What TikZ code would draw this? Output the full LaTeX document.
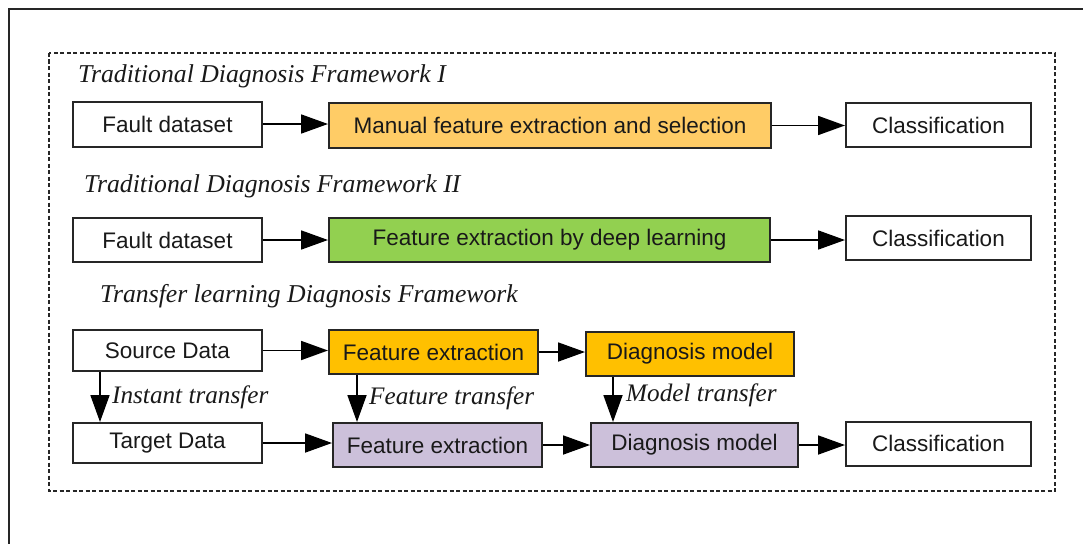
\documentclass[tikz,border=0pt]{standalone}
\usepackage{fontspec}
\setmainfont{Liberation Sans}
\newfontfamily\tmsfont{Liberation Serif}
\usetikzlibrary{arrows.meta}
\definecolor{manualc}{HTML}{FFCC66}
\definecolor{greenc}{HTML}{92D050}
\definecolor{orangec}{HTML}{FFC000}
\definecolor{purplec}{HTML}{CCC0DA}
\definecolor{edgec}{HTML}{262626}
\tikzset{
  box/.style={draw=edgec, line width=2pt, inner sep=0pt, font=\fontsize{22.5}{26}\selectfont, text=black!90},
  arr/.style={line width=1.8pt, draw=black, -{Triangle[length=27pt,width=19pt]}},
  heading/.style={anchor=west, inner sep=0pt, font=\tmsfont\itshape\fontsize{25.7}{29}\selectfont, text=black!90},
  lbl/.style={anchor=west, inner sep=0pt, font=\tmsfont\itshape\fontsize{25.2}{29}\selectfont, text=black!90},
}
\begin{document}
\begin{tikzpicture}[x=1pt,y=-1pt]
\useasboundingbox (0,0) rectangle (1083,543);
\fill[white] (0,0) rectangle (1083,543);
% outer frame (partly visible)
\draw[line width=2.4pt, black!85] (1090,9) -- (9,9) -- (9,550);
% dashed frame
\draw[line width=1.7pt, black!85, dash pattern=on 4pt off 2.5pt] (49,53) rectangle (1055,491);

% headings
\node[heading] (h1) at (78,76) {Traditional Diagnosis Framework I};
\node[heading] (h2) at (84,186) {Traditional Diagnosis Framework II};
\node[heading] (h3) at (100,296) {Transfer learning Diagnosis Framework};

% row 1
\node[box, minimum width=189pt, minimum height=45pt] (f1) at (167.5,124) {Fault dataset};
\node[box, fill=manualc, minimum width=442pt, minimum height=45pt] (m1) at (550,125.5) {Manual feature extraction and selection};
\node[box, minimum width=185pt, minimum height=44pt] (c1) at (938.5,125) {Classification};

% row 2
\node[box, minimum width=189pt, minimum height=44pt] (f2) at (167.5,240) {Fault dataset};
\node[box, fill=greenc, minimum width=441pt, minimum height=44pt] (g2) at (549.5,240) {Feature extraction by deep learning};
\node[box, minimum width=185pt, minimum height=44pt] (c2) at (938.5,238) {Classification};

% row 3
\node[box, minimum width=189pt, minimum height=41pt] (s3) at (167.5,350.5) {Source Data};
\node[box, fill=orangec, minimum width=209pt, minimum height=44pt] (fe3) at (433.5,352) {Feature extraction};
\node[box, fill=orangec, minimum width=208pt, minimum height=44pt] (dm3) at (690,354) {Diagnosis model};

% row 4
\node[box, minimum width=189pt, minimum height=40pt] (t4) at (167.5,443) {Target Data};
\node[box, fill=purplec, minimum width=209pt, minimum height=44pt] (fe4) at (437.5,445) {Feature extraction};
\node[box, fill=purplec, minimum width=207pt, minimum height=44pt] (dm4) at (694.5,445) {Diagnosis model};
\node[box, minimum width=185pt, minimum height=44pt] (c4) at (938.5,443.5) {Classification};

% horizontal arrows
\draw[arr] (f1.east) -- (f1.east -| m1.west);
\draw[arr] (m1.east) -- (m1.east -| c1.west);
\draw[arr] (f2.east) -- (f2.east -| g2.west);
\draw[arr] (g2.east) -- (g2.east -| c2.west);
\draw[arr] (s3.east) -- (s3.east -| fe3.west);
\draw[arr] (fe3.east) -- (fe3.east -| dm3.west);
\draw[arr] (t4.east) -- (t4.east -| fe4.west);
\draw[arr] (fe4.east) -- (fe4.east -| dm4.west);
\draw[arr] (dm4.east) -- (dm4.east -| c4.west);

% vertical arrows
\draw[arr] ([xshift=28pt]s3.south west) -- ([xshift=28pt]s3.south west |- t4.north);
\draw[arr] ([xshift=29pt]fe3.south west) -- ([xshift=29pt]fe3.south west |- fe4.north);
\draw[arr] ([xshift=28pt]dm3.south west) -- ([xshift=28pt]dm3.south west |- dm4.north);

% transfer labels
\node[lbl] (l1) at (112,397) {Instant transfer};
\node[lbl] (l2) at (369,398) {Feature transfer};
\node[lbl] (l3) at (626,395) {Model transfer};
\end{tikzpicture}
\end{document}
